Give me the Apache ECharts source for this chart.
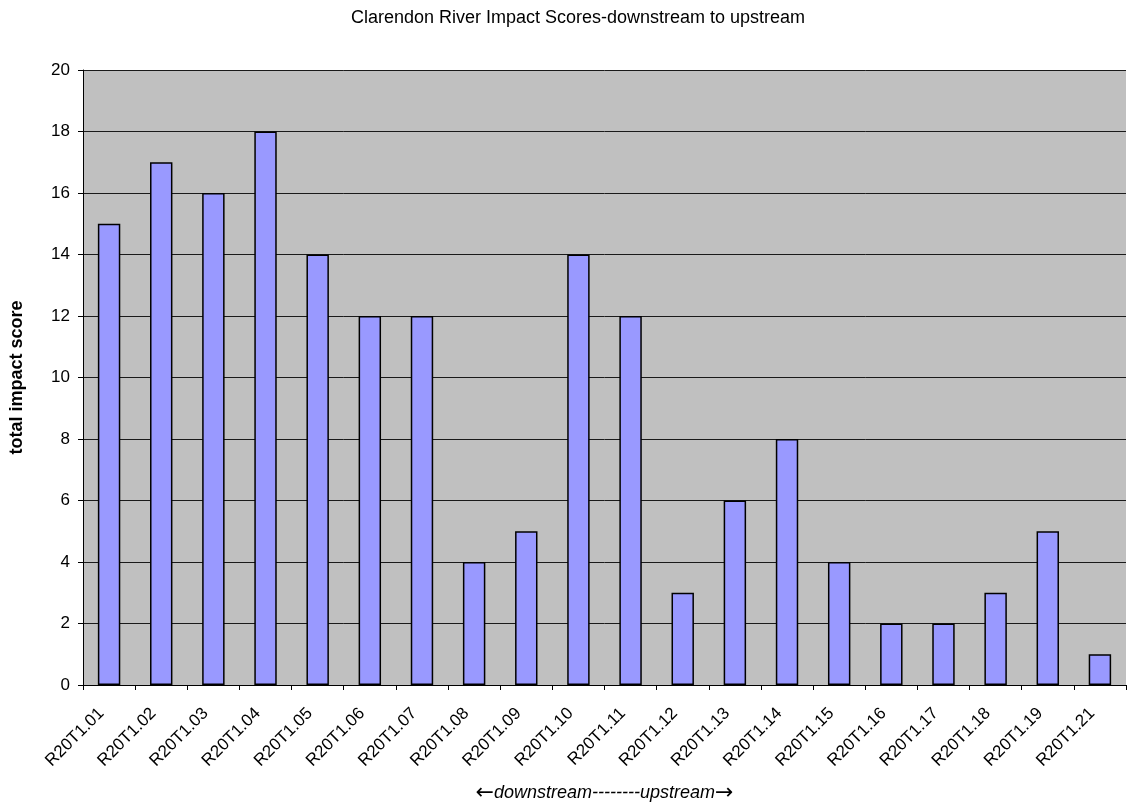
<!DOCTYPE html>
<html>
<head>
<meta charset="utf-8">
<title>Clarendon River Impact Scores</title>
<script src="https://cdn.jsdelivr.net/npm/echarts@6/dist/echarts.min.js"></script>
<style>
  html, body { margin: 0; padding: 0; background: #fff; }
  #chart { width: 1127px; height: 805px; }
</style>
</head>
<body>
<div id="chart"></div>
<script>
// Sampling sites, ordered downstream to upstream
const sites = [
  'R20T1.01', 'R20T1.02', 'R20T1.03', 'R20T1.04', 'R20T1.05',
  'R20T1.06', 'R20T1.07', 'R20T1.08', 'R20T1.09', 'R20T1.10',
  'R20T1.11', 'R20T1.12', 'R20T1.13', 'R20T1.14', 'R20T1.15',
  'R20T1.16', 'R20T1.17', 'R20T1.18', 'R20T1.19', 'R20T1.21'
];
// Total impact score per site
const impactScores = [15, 17, 16, 18, 14, 12, 12, 4, 5, 14, 12, 3, 6, 8, 4, 2, 2, 3, 5, 1];

const chart = echarts.init(document.getElementById('chart'), null, { renderer: 'canvas' });
const font = 'Liberation Sans, Arial, sans-serif';

chart.setOption({
  animation: false,
  backgroundColor: '#ffffff',
  title: {
    text: 'Clarendon River Impact Scores-downstream to upstream',
    left: 573,
    top: 4,
    textAlign: 'center',
    textStyle: { fontFamily: font, fontSize: 18, fontWeight: 'normal', color: '#000' }
  },
  grid: {
    left: 83, right: 1, top: 70, bottom: 120,
    outerBoundsMode: 'none',
    containLabel: false,
    show: true,
    backgroundColor: '#C0C0C0',
    borderWidth: 0
  },
  xAxis: {
    type: 'category',
    data: sites,
    boundaryGap: true,
    name: '{arr|\u2190}downstream--------upstream{arr|\u2192}',
    nameLocation: 'middle',
    nameGap: 97,
    nameTextStyle: {
      fontFamily: font, fontSize: 18, fontStyle: 'italic', color: '#000',
      rich: { arr: { fontFamily: 'DejaVu Sans', fontSize: 22, fontStyle: 'normal', color: '#000' } }
    },
    axisLine: { show: true, lineStyle: { color: '#000', width: 1 } },
    axisTick: { show: true, alignWithLabel: false, length: 5, lineStyle: { color: '#000' } },
    axisLabel: {
      rotate: 45, margin: 18, interval: 0, padding: [0, 11, 0, 0],
      fontFamily: font, fontSize: 17, color: '#000'
    },
    splitLine: { show: false }
  },
  yAxis: {
    type: 'value',
    min: 0,
    max: 20,
    interval: 2,
    name: 'total impact score',
    nameLocation: 'middle',
    nameGap: 57,
    nameTextStyle: { fontFamily: font, fontSize: 18, fontWeight: 'bold', color: '#000' },
    axisLine: { show: true, lineStyle: { color: '#000', width: 1 } },
    axisTick: { show: true, length: 5, lineStyle: { color: '#000' } },
    axisLabel: { margin: 13, fontFamily: font, fontSize: 17, color: '#000' },
    splitLine: { show: true, lineStyle: { color: '#1a1a1a', width: 1 } }
  },
  series: [{
    type: 'bar',
    data: impactScores,
    barWidth: '43%',
    itemStyle: { color: '#9999FF', borderColor: '#000', borderWidth: 1.5 }
  }]
});
</script>
</body>
</html>
